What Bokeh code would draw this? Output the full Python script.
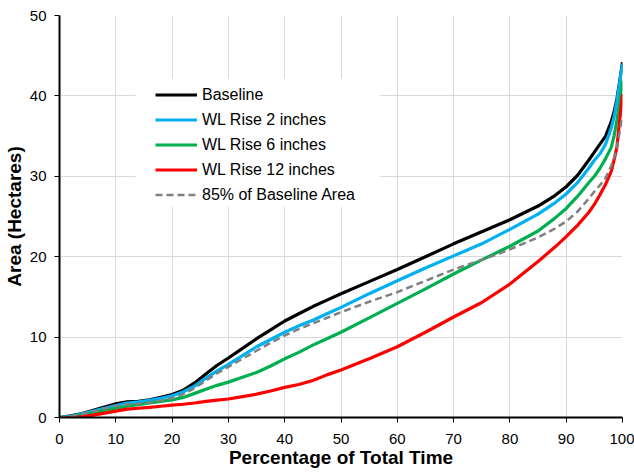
from bokeh.plotting import figure
from bokeh.models import Legend, LegendItem, Range1d, FixedTicker, BoxAnnotation
from bokeh.embed import file_html
from bokeh.resources import INLINE

# Percentage of total time (exceedance axis)
pct_time = [0, 2, 4, 6, 8, 10, 12, 14, 16, 18, 20, 22, 24, 26, 28, 30, 32.5, 35,
            37.5, 40, 42.5, 45, 47.5, 50, 55, 60, 65, 70, 75, 80, 85, 88, 90, 92,
            94, 95, 96, 97, 98, 98.5, 99, 99.5, 100]

# Area (hectares) for each scenario
baseline = [0, 0.2, 0.5, 0.9, 1.3, 1.7, 1.95, 2.0, 2.2, 2.5, 2.85, 3.4, 4.3, 5.4,
            6.5, 7.4, 8.6, 9.8, 10.9, 12.0, 12.9, 13.8, 14.6, 15.4, 16.9, 18.4,
            20.0, 21.6, 23.1, 24.6, 26.3, 27.6, 28.7, 30.1, 32.0, 33.0, 34.0,
            35.0, 36.8, 38.0, 39.6, 41.8, 44.2]
wl_rise_2in = [0, 0.15, 0.45, 0.8, 1.15, 1.5, 1.8, 1.95, 2.15, 2.4, 2.7, 3.2, 3.9,
               4.9, 5.8, 6.6, 7.7, 8.8, 9.7, 10.6, 11.4, 12.1, 12.9, 13.7, 15.4,
               17.0, 18.6, 20.1, 21.6, 23.4, 25.3, 26.7, 27.8, 29.2, 31.0, 32.0,
               32.8, 34.0, 36.0, 37.4, 39.3, 41.7, 44.0]
wl_rise_6in = [0, 0.05, 0.3, 0.6, 0.9, 1.15, 1.4, 1.6, 1.8, 2.0, 2.2, 2.5, 3.0,
               3.5, 4.0, 4.4, 5.0, 5.6, 6.4, 7.3, 8.1, 9.0, 9.8, 10.6, 12.4, 14.2,
               16.0, 17.85, 19.6, 21.3, 23.2, 24.8, 26.0, 27.5, 29.2, 30.0, 31.0,
               32.2, 33.6, 35.0, 37.0, 39.2, 41.9]
wl_rise_12in = [0, 0.0, 0.1, 0.3, 0.55, 0.8, 1.05, 1.15, 1.25, 1.4, 1.55, 1.65,
                1.8, 2.0, 2.15, 2.3, 2.6, 2.9, 3.3, 3.75, 4.1, 4.6, 5.3, 5.9, 7.3,
                8.8, 10.6, 12.5, 14.3, 16.6, 19.4, 21.2, 22.5, 23.9, 25.5, 26.5,
                27.7, 29.0, 30.6, 32.0, 33.6, 37.0, 40.2]
baseline_85pct = [0, 0.15, 0.4, 0.75, 1.1, 1.45, 1.65, 1.7, 1.85, 2.1, 2.4, 2.9,
                  3.65, 4.6, 5.5, 6.3, 7.3, 8.3, 9.3, 10.2, 11.0, 11.7, 12.4, 13.1,
                  14.4, 15.6, 17.0, 18.4, 19.6, 20.9, 22.4, 23.5, 24.4, 25.6, 27.2,
                  28.1, 28.9, 29.8, 31.3, 32.3, 33.7, 35.5, 37.6]

x_ticks = [0, 10, 20, 30, 40, 50, 60, 70, 80, 90, 100]
y_ticks = [0, 10, 20, 30, 40, 50]

FONT = "Liberation Sans"

p = figure(width=634, height=474, output_backend="svg", toolbar_location=None,
           x_range=Range1d(0, 100), y_range=Range1d(0, 50),
           min_border_left=59, min_border_right=12, min_border_top=15,
           min_border_bottom=57)
p.outline_line_color = None
p.background_fill_color = "white"

for ax, ticks in ((p.xaxis[0], x_ticks), (p.yaxis[0], y_ticks)):
    ax.ticker = FixedTicker(ticks=ticks)
    ax.axis_line_color = "black"
    ax.axis_line_width = 2
    ax.major_tick_line_color = "black"
    ax.major_tick_line_width = 1
    ax.major_tick_out = 5
    ax.major_tick_in = 0
    ax.minor_tick_line_color = None
    ax.major_label_text_font = FONT
    ax.major_label_text_font_size = "15px"
    ax.major_label_text_color = "black"
    ax.axis_label_text_font = FONT
    ax.axis_label_text_font_size = "19px"
    ax.axis_label_text_font_style = "bold"
    ax.axis_label_text_color = "black"

p.xaxis.axis_label = "Percentage of Total Time"
p.yaxis.axis_label = "Area (Hectares)"
p.xaxis.major_label_standoff = 11
p.xaxis.axis_label_standoff = 0
p.yaxis.major_label_standoff = 8
p.yaxis.axis_label_standoff = 2

p.xgrid.ticker = FixedTicker(ticks=x_ticks)
p.ygrid.ticker = FixedTicker(ticks=y_ticks)
for g in (p.xgrid[0], p.ygrid[0]):
    g.grid_line_color = "#D9D9D9"
    g.grid_line_width = 1

# White backing panel behind the legend
p.add_layout(BoxAnnotation(left=76, right=321, top=339, bottom=213,
                           left_units="screen", right_units="screen",
                           top_units="screen", bottom_units="screen",
                           fill_color="white", fill_alpha=1.0,
                           line_color=None, level="underlay"))

r_base = p.line(pct_time, baseline, line_color="black", line_width=3.2)
r_2 = p.line(pct_time, wl_rise_2in, line_color="#00B0F0", line_width=3.2)
r_6 = p.line(pct_time, wl_rise_6in, line_color="#00B050", line_width=3.2)
r_12 = p.line(pct_time, wl_rise_12in, line_color="#FF0000", line_width=3.2)
r_85 = p.line(pct_time, baseline_85pct, line_color="#808080", line_width=2.5,
              line_dash="7 4")

legend = Legend(items=[
    LegendItem(label="Baseline", renderers=[r_base]),
    LegendItem(label="WL Rise 2 inches", renderers=[r_2]),
    LegendItem(label="WL Rise 6 inches", renderers=[r_6]),
    LegendItem(label="WL Rise 12 inches", renderers=[r_12]),
    LegendItem(label="85% of Baseline Area", renderers=[r_85]),
], location=(96, 210))
legend.padding = 2
legend.margin = 0
legend.spacing = 0
legend.glyph_width = 42
legend.glyph_height = 25
legend.label_height = 25
legend.label_standoff = 5
legend.label_text_font = FONT
legend.label_text_font_size = "16px"
legend.label_text_color = "black"
legend.background_fill_color = "white"
legend.background_fill_alpha = 1.0
legend.border_line_color = None
p.add_layout(legend, "center")

open("out.html", "w").write(file_html(p, INLINE))
